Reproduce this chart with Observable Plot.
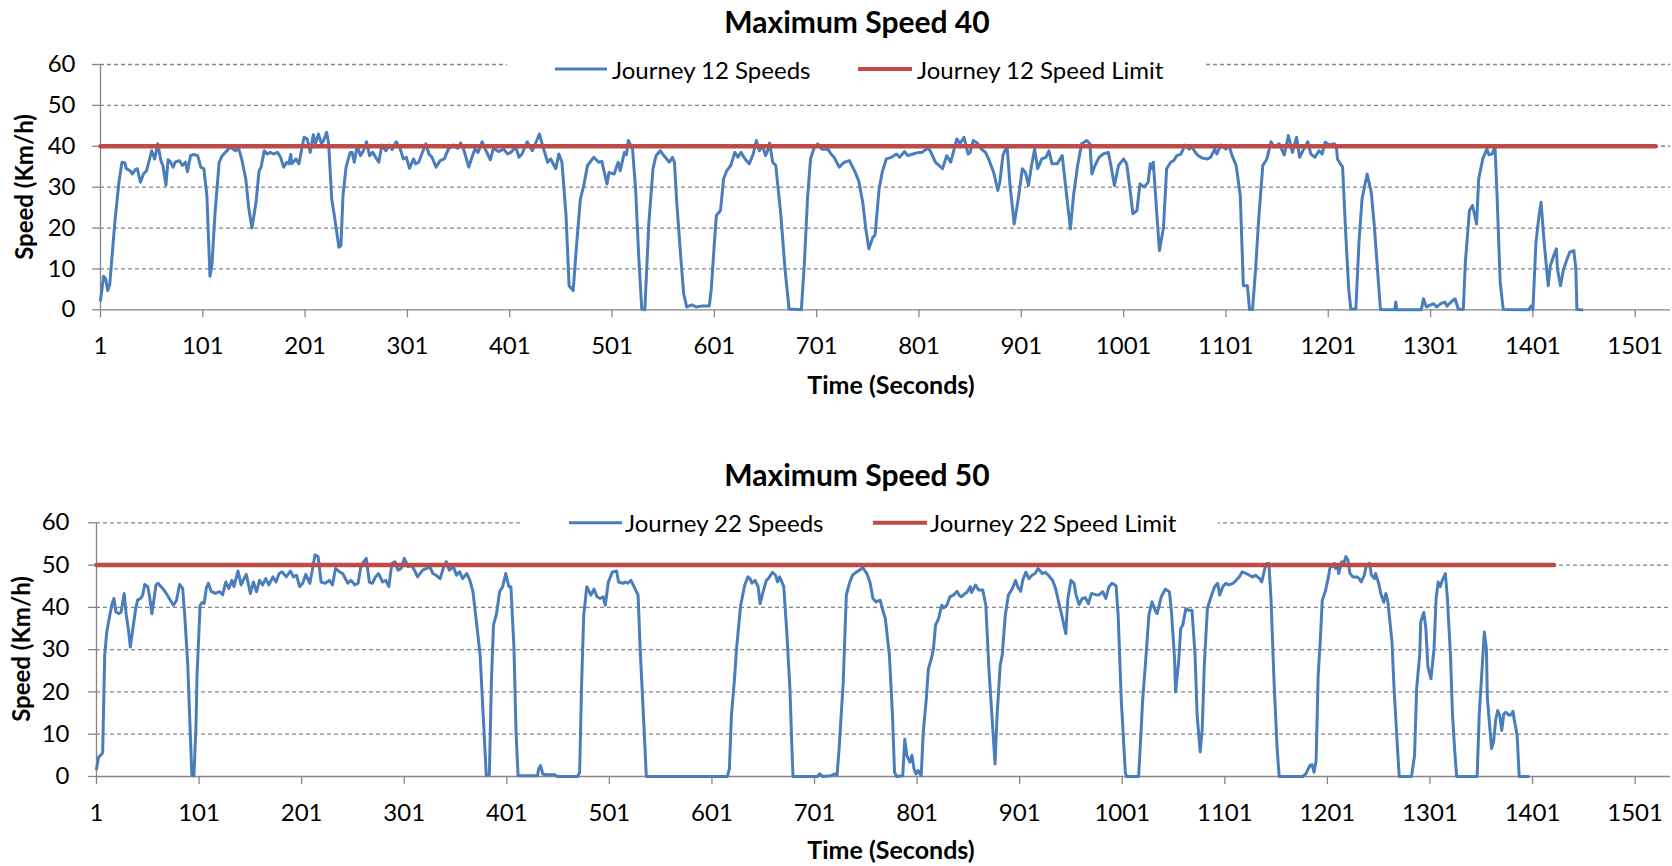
<!DOCTYPE html>
<html><head><meta charset="utf-8">
<script src="https://cdn.jsdelivr.net/npm/d3@7"></script>
<script src="https://cdn.jsdelivr.net/npm/@observablehq/plot@0.6"></script>
<style>
html,body{margin:0;padding:0;background:#fff;}
#wrap{position:relative;width:1672px;height:866px;overflow:hidden;}
#wrap > div.chart{position:absolute;left:0;width:1672px;height:433px;}
#overlay{position:absolute;left:0;top:0;}
</style></head><body><div id="wrap"></div>
<script>
// ---- tick values ----
const xTicks = [1, 101, 201, 301, 401, 501, 601, 701, 801, 901, 1001, 1101, 1201, 1301, 1401, 1501];
const yTicks = [0, 10, 20, 30, 40, 50, 60];
const gridTicks = [10, 20, 30, 40, 50, 60];

// ---- chart titles / series names ----
const titles = ["Maximum Speed 40", "Maximum Speed 50"];
const seriesNames = [["Journey 12 Speeds", "Journey 12 Speed Limit"], ["Journey 22 Speeds", "Journey 22 Speed Limit"]];
const xTitle = "Time (Seconds)";
const yTitle = "Speed (Km/h)";

// ---- Journey 12 ----
const j12Time = [1,4,6,8,10,15,19,22,25,26,30,32,35,37,40,43,46,51,54,57,60,62,65,67,69,72,74,78,81,84,86,89,92,96,99,102,105,108,110,112,113,117,120,123,128,133,136,139,143,146,149,153,156,158,161,164,167,170,174,177,180,183,185,187,188,192,195,197,200,203,206,209,211,214,217,219,222,224,227,231,234,236,238,241,245,247,249,252,255,258,261,264,267,271,273,276,280,283,286,290,294,297,300,303,307,309,312,315,319,322,325,329,333,337,341,346,350,353,356,361,364,367,370,374,377,382,385,390,395,399,
402,407,410,413,418,423,426,430,433,438,441,446,449,452,456,459,463,466,470,473,477,483,488,491,496,498,503,507,509,513,515,517,521,524,527,530,533,537,541,544,548,553,557,560,562,564,568,571,574,579,583,588,596,598,601,603,607,610,613,617,621,624,627,631,635,639,642,645,648,651,653,655,658,661,666,670,674,686,689,692,695,698,702,706,712,715,718,723,728,733,738,742,746,749,752,756,758,762,765,769,774,779,782,787,790,795,801,
804,809,812,817,824,828,832,838,841,845,849,851,854,858,862,866,869,874,878,880,883,887,890,894,898,902,905,908,911,914,917,921,925,928,931,936,941,944,949,952,956,960,965,968,970,973,977,981,986,988,992,996,1001,1004,1008,1010,1014,1017,1021,1025,1027,1029,1030,1034,1036,1040,1043,1047,1050,1053,1057,1061,1065,1068,1071,1074,1078,1083,1086,1090,1092,1096,1101,1104,1107,1111,1115,1118,1122,1124,1127,1130,1133,1137,1141,1145,1148,1153,1158,1162,1166,1170,1173,1177,1181,1184,1188,1192,1195,1198,1202,
1207,1209,1210,1215,1218,1221,1223,1228,1231,1234,1239,1243,1246,1250,1252,1266,1267,1268,1292,1294,1297,1300,1304,1307,1311,1315,1317,1321,1325,1328,1333,1335,1339,1342,1346,1348,1352,1356,1358,1361,1364,1366,1369,1372,1397,1399,1401,1404,1407,1409,1412,1416,1418,1422,1424,1425,1428,1431,1434,1437,1441,1443,1444,1449];
const j12Speed = [2.3,8.2,7.6,4.7,6.1,21.4,31.2,36.1,35.9,34.6,34.0,33.2,34.3,34.5,31.2,33.2,34.0,38.9,36.9,40.6,36.5,35.3,30.5,36.7,36.3,34.9,36.1,36.5,35.3,36.1,33.8,37.7,38.0,37.7,34.9,34.5,27.9,8.2,11.2,19.8,23.9,36.1,37.7,38.5,39.8,38.9,39.5,36.9,32.0,24.7,20.0,26.3,34.0,34.9,38.9,38.1,38.5,38.1,38.5,37.3,34.9,36.1,35.7,38.0,35.7,36.9,35.7,38.5,42.2,41.8,38.5,42.8,40.6,43.0,40.6,41.4,43.4,40.6,27.1,20.6,15.3,15.7,27.9,34.9,38.5,38.5,36.1,40.2,37.7,38.9,41.1,37.7,38.5,36.9,36.1,40.3,38.9,40.3,39.2,41.1,39.3,36.9,37.3,34.6,36.9,35.7,36.1,38.1,40.6,38.1,37.3,34.9,36.5,36.9,39.3,40.3,39.5,40.8,39.2,34.9,37.3,39.3,38.5,41.1,39.3,36.7,39.5,38.7,39.3,38.1,
38.5,39.8,37.3,38.1,41.1,38.9,40.6,43.0,40.3,36.1,36.9,34.5,38.1,36.1,23.1,5.9,4.7,14.9,27.1,30.0,35.3,37.3,36.1,36.3,30.8,33.6,33.2,36.1,34.0,38.5,37.9,41.4,39.3,29.6,13.3,0.2,0,21.4,34.5,37.7,38.9,37.3,36.1,37.3,36.1,27.1,13.3,3.9,0.7,1.2,0.7,0.9,0.9,5.1,16.5,23.1,24.3,32.0,34.0,35.3,38.5,37.3,38.5,36.9,35.7,38.1,41.4,38.9,40.2,37.7,38.9,40.8,36.1,35.3,23.1,10.0,0.2,0,11.6,27.1,36.9,39.3,40.6,39.3,39.3,38.1,37.3,34.9,36.1,36.5,34.0,31.6,26.3,19.8,14.9,17.8,18.2,29.6,33.6,36.9,37.3,38.1,37.3,38.7,37.7,38.1,38.5,
38.5,39.5,38.9,36.1,34.5,37.7,36.1,41.8,40.6,42.2,38.1,38.5,41.4,40.8,39.3,38.5,36.9,33.6,29.2,31.2,37.7,40.2,30.4,21.0,27.1,34.5,33.6,30.4,35.3,39.3,34.5,36.9,37.3,38.9,35.7,35.7,37.7,30.8,19.8,27.9,35.3,40.6,41.4,40.6,33.2,35.3,37.3,38.1,38.5,36.1,30.4,35.3,36.9,35.7,27.9,23.5,24.3,30.8,30.0,31.2,35.7,34.5,36.1,21.4,14.5,20.2,34.5,36.1,36.5,37.7,38.1,40.3,39.3,39.8,38.5,37.7,37.1,36.9,37.3,39.3,38.1,40.3,39.3,40.2,37.7,35.3,27.9,5.9,5.9,0.1,0.1,10.0,22.2,35.3,36.9,41.1,39.8,40.6,37.9,42.6,38.5,42.2,37.3,39.3,41.1,38.1,37.3,38.9,38.1,41.0,40.3,
40.6,39.8,36.9,34.9,19.0,5.1,0.2,0.2,16.5,27.1,33.2,28.8,20.6,6.8,0.1,0,1.9,0,0,2.7,0.7,1.1,1.5,0.7,1.5,1.9,0.9,1.9,2.7,0.2,0.1,11.6,24.3,25.5,21.0,32.0,36.9,39.3,37.9,38.1,39.8,27.9,6.8,0.1,0,0.9,0,16.5,23.1,26.3,16.5,5.9,10.8,13.7,14.9,10.0,5.9,10.0,12.1,14.1,14.5,10.0,0.1,0];
const j12Limit = 40;
const j12LimitEnd = 1521;

// ---- Journey 22 ----
const j22Time = [1,3,5,7,9,11,14,16,18,20,23,25,28,30,32,34,36,39,41,44,46,48,51,53,55,59,61,65,68,72,76,79,82,85,87,90,92,94,96,98,99,102,104,106,108,110,113,117,121,124,127,130,133,135,139,142,144,147,151,154,157,160,163,166,169,173,176,179,182,186,190,193,196,199,202,205,209,212,214,217,220,224,228,231,234,238,241,246,249,253,256,259,264,267,270,273,276,280,283,286,289,292,295,298,301,305,308,311,314,319,323,326,329,332,336,339,342,345,349,352,355,358,362,365,368,371,375,378,381,384,386,388,391,394,397,400,
403,405,408,410,412,431,432,434,436,439,448,450,470,472,474,476,479,483,486,489,492,495,497,500,504,508,510,514,517,519,522,525,529,531,535,537,616,618,620,623,625,629,633,636,638,640,643,646,648,650,654,656,660,663,665,667,671,674,677,679,680,704,706,709,717,721,723,725,729,732,735,738,742,745,748,752,755,758,761,765,768,770,774,777,779,781,787,789,791,794,796,798,800,
802,805,807,810,812,815,817,819,822,825,827,830,833,837,840,842,844,850,853,854,858,861,865,868,871,875,877,879,882,884,887,890,894,897,899,902,904,907,910,913,916,919,923,926,929,933,936,939,942,946,948,951,954,956,959,962,965,968,971,975,978,982,985,988,991,995,997,1000,1004,1005,1017,1021,1024,1027,1030,1033,1035,1039,1043,1047,1049,1052,1053,1056,1058,1060,1063,1066,1069,1072,1074,1077,1079,1081,1084,1087,1091,1094,1096,1099,1102,1105,1109,1112,1115,1118,1122,1125,1128,1131,1135,1137,1140,1142,1144,1146,1149,1152,1154,1177,1180,1184,1186,1188,1190,1192,1194,1196,1199,
1202,1204,1206,1208,1209,1211,1212,1215,1217,1219,1221,1223,1226,1230,1232,1234,1237,1239,1242,1244,1247,1248,1251,1253,1256,1258,1260,1264,1266,1269,1271,1283,1286,1288,1291,1292,1295,1297,1299,1302,1305,1307,1309,1311,1313,1316,1318,1321,1323,1325,1327,1347,1349,1352,1354,1356,1357,1360,1361,1363,1365,1367,1369,1371,1373,1375,1378,1380,1382,1383,1386,1388,1397];
const j22Speed = [1.8,4.6,5.0,5.6,28.7,34.2,38.2,40.7,42.1,38.9,38.5,38.9,43.3,38.2,35.0,30.6,34.2,39.3,41.7,42.1,42.9,45.4,44.9,42.1,38.5,45.3,45.7,44.6,43.7,42.1,40.5,41.7,45.4,44.5,38.2,26.3,12.9,0.2,0.2,12.1,23.9,40.5,41.2,40.9,44.5,45.7,43.7,43.3,43.7,43.0,46.0,44.5,46.4,44.9,48.6,45.3,46.4,47.8,43.3,46.0,43.7,46.4,45.3,46.8,45.3,47.2,46.0,48.0,48.4,47.2,48.6,47.2,47.6,44.9,45.7,47.8,45.7,49.6,52.4,52.0,46.0,45.7,46.4,45.3,49.2,48.4,48.0,45.7,46.4,45.3,45.7,50.0,51.6,46.0,45.7,47.2,48.0,46.0,46.4,44.9,50.4,50.8,48.8,49.2,51.6,49.6,50.0,48.8,47.2,48.8,49.2,49.6,48.0,47.6,46.8,49.2,50.8,48.8,49.6,47.6,48.4,46.8,48.0,46.4,43.7,37.4,28.7,14.5,0.2,0.4,22.4,35.8,38.5,43.7,44.9,48.0,
44.9,44.9,30.3,10.5,0.2,0.2,1.8,2.6,0.6,0.4,0.4,0,0,1.0,22.4,38.2,44.9,42.9,44.3,42.5,42.1,42.5,40.5,46.0,48.4,48.6,46.0,45.7,46.0,45.7,46.4,44.9,42.9,30.3,10.5,0,0,1.8,14.5,23.1,30.3,40.5,45.3,47.2,46.8,45.7,46.4,44.9,40.9,42.9,46.4,46.8,48.3,47.6,46.0,47.2,44.9,34.1,20.8,6.6,0,0,0.6,0,0.2,0.6,0.4,6.6,22.4,42.9,45.7,47.6,48.4,48.8,49.4,48.0,46.0,42.1,41.3,41.7,38.9,37.4,28.7,14.5,1.0,0,0.2,8.8,5.0,3.4,5.0,1.8,0.6,
1.4,0.2,10.5,18.4,25.5,27.9,30.3,35.8,37.4,40.5,39.9,40.5,42.5,43.0,43.8,42.9,42.5,43.7,44.9,43.5,45.3,44.1,44.1,40.5,25.5,10.5,3.0,14.5,26.3,28.7,38.2,42.9,44.5,46.4,44.9,43.8,46.4,48.3,46.8,47.6,48.0,49.2,48.0,48.3,47.6,46.4,44.5,41.3,38.2,33.8,42.1,46.4,45.7,42.9,40.7,42.1,42.3,40.9,43.3,43.0,42.9,43.7,42.1,44.9,45.7,45.1,38.2,18.4,1.0,0,0,18.4,27.9,38.2,41.3,39.3,38.5,42.5,44.3,43.7,38.9,27.9,20.0,27.1,35.0,35.8,39.7,39.3,39.3,28.7,14.5,5.8,11.3,26.3,39.7,42.1,44.9,45.7,42.9,44.9,45.7,45.3,45.7,46.4,47.2,48.4,48.0,47.6,47.2,47.6,46.8,46.0,49.2,50.4,50.4,42.1,22.4,6.6,0,0,0.6,2.6,2.8,1.0,3.8,23.9,31.8,41.7,43.8,
47.2,50.0,49.6,50.4,49.2,50.0,48.0,50.8,50.4,52.0,51.2,48.0,47.2,47.2,46.8,46.0,47.6,50.0,50.4,47.6,46.8,48.0,45.7,43.3,41.2,43.3,41.3,31.8,20.8,8.1,0,0,5.0,20.8,28.7,36.6,38.8,35.0,25.9,23.1,30.3,42.1,46.0,44.9,46.4,48.0,42.1,28.7,14.5,6.6,0,0,14.5,26.3,34.2,30.3,18.4,9.7,6.6,8.1,13.3,15.6,14.5,10.9,14.8,15.2,14.5,14.6,15.4,13.7,9.7,0,0];
const j22Limit = 50;
const j22LimitEnd = 1422;

// ---- colours ----
const speedColor = "#4A7EBB";
const limitColor = "#BE4B48";
const axisColor = "#868686";
const FONT = "Lato, 'Open Sans', sans-serif";

function chart(time, speed, limit, limitEnd, ml, mt, mb, tickPad) {
  const speeds = time.map((t, i) => ({t, v: speed[i]}));
  const limitLine = [{t: 1, v: limit}, {t: limitEnd, v: limit}];
  return Plot.plot({
    width: 1672, height: 433,
    marginLeft: ml, marginRight: 2, marginTop: mt, marginBottom: mb,
    style: {fontFamily: FONT, fontSize: "24px", color: "#000", background: "transparent", overflow: "visible"},
    x: {domain: [1, 1535.5]},
    y: {domain: [0, 60]},
    marks: [
      Plot.gridY(gridTicks, {stroke: axisColor, strokeOpacity: 1, strokeWidth: 1.3, strokeDasharray: "4,3"}),
      Plot.ruleY([0], {stroke: axisColor, strokeWidth: 1.3}),
      Plot.ruleX([1], {stroke: axisColor, strokeWidth: 1.3}),
      Plot.axisX(xTicks, {tickSize: 8, tickPadding: 19, stroke: axisColor, strokeWidth: 1.3, fill: "#000", fontSize: 24, label: null, tickFormat: d => String(d)}),
      Plot.axisY(yTicks, {tickSize: 8, tickPadding: tickPad, stroke: axisColor, strokeWidth: 1.3, fill: "#000", fontSize: 24, label: null, tickFormat: d => String(d)}),
      Plot.line(speeds, {x: "t", y: "v", stroke: speedColor, strokeWidth: 3, strokeLinejoin: "round"}),
      Plot.line(limitLine, {x: "t", y: "v", stroke: limitColor, strokeWidth: 4.5})
    ]
  });
}

const wrap = document.getElementById("wrap");
const c1 = document.createElement("div"); c1.className = "chart"; c1.style.top = "0px";
c1.appendChild(chart(j12Time, j12Speed, j12Limit, j12LimitEnd, 100, 64, 123.7, 17));
const c2 = document.createElement("div"); c2.className = "chart"; c2.style.top = "433px";
c2.appendChild(chart(j22Time, j22Speed, j22Limit, j22LimitEnd, 96, 89.3, 90, 19));
wrap.appendChild(c1); wrap.appendChild(c2);

// ---- overlay: titles, legends, axis titles ----
const NS = "http://www.w3.org/2000/svg";
const ov = document.createElementNS(NS, "svg");
ov.setAttribute("id", "overlay"); ov.setAttribute("width", 1672); ov.setAttribute("height", 866);
ov.style.fontFamily = FONT;
function el(tag, attrs, text) {
  const e = document.createElementNS(NS, tag);
  for (const k in attrs) e.setAttribute(k, attrs[k]);
  if (text != null) e.textContent = text;
  ov.appendChild(e); return e;
}
const panels = [
  {title: titles[0], ty: 20.5, box: [507, 1205], ly: 69, sw1: [555, 607], t1: 612, sw2: [858, 912], t2: 917, names: seriesNames[0], xty: 384, yt: [23, 187], xtx: 891},
  {title: titles[1], ty: 473.5, box: [522, 1218], ly: 522.7, sw1: [569, 622], t1: 625, sw2: [873, 927], t2: 930, names: seriesNames[1], xty: 849, yt: [20, 649], xtx: 891}
];
for (const p of panels) {
  el("text", {x: 857, y: p.ty, "text-anchor": "middle", "dominant-baseline": "central", "font-size": 30, "font-weight": "bold", fill: "#000"}, p.title);
  el("rect", {x: p.box[0], y: p.ly - 12, width: p.box[1] - p.box[0], height: 24, fill: "#fff"});
  el("line", {x1: p.sw1[0], x2: p.sw1[1], y1: p.ly, y2: p.ly, stroke: speedColor, "stroke-width": 3});
  el("text", {x: p.t1, y: p.ly, "dominant-baseline": "central", "font-size": 24, fill: "#000"}, p.names[0]);
  el("line", {x1: p.sw2[0], x2: p.sw2[1], y1: p.ly, y2: p.ly, stroke: limitColor, "stroke-width": 4});
  el("text", {x: p.t2, y: p.ly, "dominant-baseline": "central", "font-size": 24, fill: "#000"}, p.names[1]);
  el("text", {x: p.xtx, y: p.xty, "text-anchor": "middle", "dominant-baseline": "central", "font-size": 25, "font-weight": "bold", fill: "#000"}, xTitle);
  el("text", {transform: `translate(${p.yt[0]},${p.yt[1]}) rotate(-90)`, "text-anchor": "middle", "dominant-baseline": "central", "font-size": 24, "font-weight": "bold", fill: "#000"}, yTitle);
}
wrap.appendChild(ov);
</script></body></html>
